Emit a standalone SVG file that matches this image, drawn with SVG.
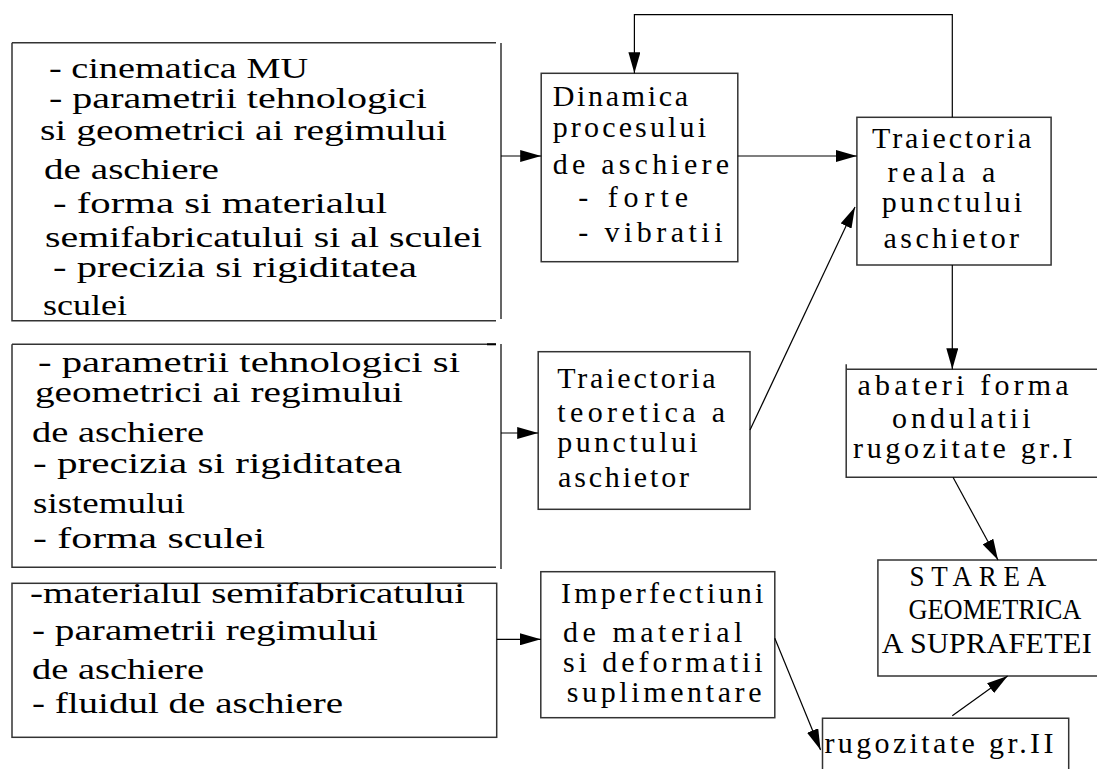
<svg xmlns="http://www.w3.org/2000/svg" width="1097" height="769" viewBox="0 0 1097 769">
<style>
.bx{fill:none;stroke:#333;stroke-width:1.5}
.ln{fill:none;stroke:#000;stroke-width:1.2}
.t{font-family:"Liberation Serif","Times New Roman",serif;font-size:29px;fill:#000}
.r{font-family:"Liberation Serif","Times New Roman",serif;font-size:30px;fill:#000}
</style>
<defs>
<marker id="ah" markerUnits="userSpaceOnUse" markerWidth="22" markerHeight="12" refX="21" refY="6" orient="auto">
<path d="M0,0 L21,6 L0,12 Z" fill="#000"/>
</marker>
</defs>
<rect width="1097" height="769" fill="#fff"/>

<g id="box1">
<path class="bx" d="M12,42.7 H496 M12,42.7 V320.7 H496 M501,43 V319"/>
<text class="t" x="49" y="78" textLength="259" lengthAdjust="spacingAndGlyphs">- cinematica MU</text>
<text class="t" x="49" y="108" textLength="378" lengthAdjust="spacingAndGlyphs">- parametrii tehnologici</text>
<text class="t" x="40" y="140" textLength="407" lengthAdjust="spacingAndGlyphs">si geometrici ai regimului</text>
<text class="t" x="44" y="179" textLength="175" lengthAdjust="spacingAndGlyphs">de aschiere</text>
<text class="t" x="53" y="213" textLength="334" lengthAdjust="spacingAndGlyphs">- forma si materialul</text>
<text class="t" x="45" y="247" textLength="437" lengthAdjust="spacingAndGlyphs">semifabricatului si al sculei</text>
<text class="t" x="53" y="277" textLength="364" lengthAdjust="spacingAndGlyphs">- precizia si rigiditatea</text>
<text class="t" x="43" y="315" textLength="84" lengthAdjust="spacingAndGlyphs">sculei</text>
</g>

<g id="box2">
<path class="bx" d="M12,344.3 H496 M12,344.3 V567.3 H496 M501,344 V569"/>
<path d="M487,344.3 H496" stroke="#000" stroke-width="2"/>
<text class="t" x="38" y="372" textLength="422" lengthAdjust="spacingAndGlyphs">- parametrii tehnologici si</text>
<text class="t" x="35" y="402" textLength="368" lengthAdjust="spacingAndGlyphs">geometrici ai regimului</text>
<text class="t" x="32" y="442" textLength="172" lengthAdjust="spacingAndGlyphs">de aschiere</text>
<text class="t" x="33" y="473" textLength="369" lengthAdjust="spacingAndGlyphs">- precizia si rigiditatea</text>
<text class="t" x="33" y="513" textLength="152" lengthAdjust="spacingAndGlyphs">sistemului</text>
<text class="t" x="33" y="548" textLength="232" lengthAdjust="spacingAndGlyphs">- forma sculei</text>
</g>

<g id="box3">
<rect class="bx" x="12" y="583.3" width="484.7" height="154"/>
<text class="t" x="30" y="603" textLength="435" lengthAdjust="spacingAndGlyphs">-materialul semifabricatului</text>
<text class="t" x="32" y="640" textLength="346" lengthAdjust="spacingAndGlyphs">- parametrii regimului</text>
<text class="t" x="32" y="679" textLength="172" lengthAdjust="spacingAndGlyphs">de aschiere</text>
<text class="t" x="32" y="713" textLength="311" lengthAdjust="spacingAndGlyphs">- fluidul de aschiere</text>
</g>

<g id="dinamica">
<rect class="bx" x="541.2" y="73.3" width="196.6" height="188.4"/>
<text class="r" x="552.7" y="106" textLength="135.5" lengthAdjust="spacing">Dinamica</text>
<text class="r" x="552.7" y="137" textLength="153.4" lengthAdjust="spacing">procesului</text>
<text class="r" x="552.7" y="174" textLength="176.3" lengthAdjust="spacing">de aschiere</text>
<text class="r" x="578.2" y="207" textLength="110" lengthAdjust="spacing">- forte</text>
<text class="r" x="578.2" y="242" textLength="144.3" lengthAdjust="spacing">- vibratii</text>
</g>

<g id="traiectoria-reala">
<rect class="bx" x="856.9" y="117.3" width="194.2" height="147.7"/>
<text class="r" x="872.1" y="148" textLength="159.2" lengthAdjust="spacing">Traiectoria</text>
<text class="r" x="887.4" y="182" textLength="108" lengthAdjust="spacing">reala a</text>
<text class="r" x="881.7" y="212" textLength="140.4" lengthAdjust="spacing">punctului</text>
<text class="r" x="883.6" y="248" textLength="135.5" lengthAdjust="spacing">aschietor</text>
</g>

<g id="traiectoria-teoretica">
<rect class="bx" x="538.2" y="351.7" width="211.8" height="157.6"/>
<text class="r" x="557.3" y="388" textLength="158.3" lengthAdjust="spacing">Traiectoria</text>
<text class="r" x="557.3" y="422" textLength="167.9" lengthAdjust="spacing">teoretica a</text>
<text class="r" x="557.3" y="452" textLength="140.4" lengthAdjust="spacing">punctului</text>
<text class="r" x="558" y="487" textLength="131" lengthAdjust="spacing">aschietor</text>
</g>

<g id="abateri">
<path class="bx" d="M846.2,364.3 V477.3 H1110 M846.2,369.3 H1110"/>
<text class="r" x="857.6" y="395" textLength="211" lengthAdjust="spacing">abateri forma</text>
<text class="r" x="892" y="428" textLength="138.5" lengthAdjust="spacing">ondulatii</text>
<text class="r" x="853" y="458" textLength="219.5" lengthAdjust="spacing">rugozitate gr.I</text>
</g>

<g id="starea">
<rect class="bx" x="877.9" y="560" width="240" height="116"/>
<text class="r" transform="translate(909.5,586) scale(0.9,1)" x="0" y="0" textLength="152" lengthAdjust="spacing">STAREA</text>
<text class="r" transform="translate(908.4,619) scale(0.88,1)" x="0" y="0">GEOMETRICA</text>
<text class="r" transform="translate(881.7,653) scale(1,1)" x="0" y="0" textLength="210" lengthAdjust="spacing">A SUPRAFETEI</text>
</g>

<g id="imperfectiuni">
<rect class="bx" x="540.8" y="571.7" width="234" height="146"/>
<text class="r" x="561" y="603" textLength="202.4" lengthAdjust="spacing">Imperfectiuni</text>
<text class="r" x="563" y="642" textLength="179.4" lengthAdjust="spacing">de material</text>
<text class="r" x="563" y="672" textLength="199.6" lengthAdjust="spacing">si deformatii</text>
<text class="r" x="566.8" y="702" textLength="194.7" lengthAdjust="spacing">suplimentare</text>
</g>

<g id="rugozitate-II">
<path class="bx" d="M822.5,790 V718.3 H1068.7 V790"/>
<text class="r" x="824.4" y="753" textLength="229" lengthAdjust="spacing">rugozitate gr.II</text>
</g>

<g id="connectors">
<path class="ln" marker-end="url(#ah)" d="M501,156 H541.2"/>
<path class="ln" marker-end="url(#ah)" d="M737.8,156 H856.9"/>
<path class="ln" marker-end="url(#ah)" d="M952.3,117.3 V14.7 H634.4 V73.3"/>
<path class="ln" marker-end="url(#ah)" d="M501,433 H538.2"/>
<path class="ln" marker-end="url(#ah)" d="M750,430 L855,207"/>
<path class="ln" marker-end="url(#ah)" d="M952.3,265 V369.3"/>
<path class="ln" marker-end="url(#ah)" d="M953,477.3 L998,560"/>
<path class="ln" marker-end="url(#ah)" d="M496.7,639.3 H540.8"/>
<path class="ln" marker-end="url(#ah)" d="M774.8,638.3 L820.6,750"/>
<path class="ln" marker-end="url(#ah)" d="M952.3,715.7 L1007.6,676"/>
</g>
</svg>
